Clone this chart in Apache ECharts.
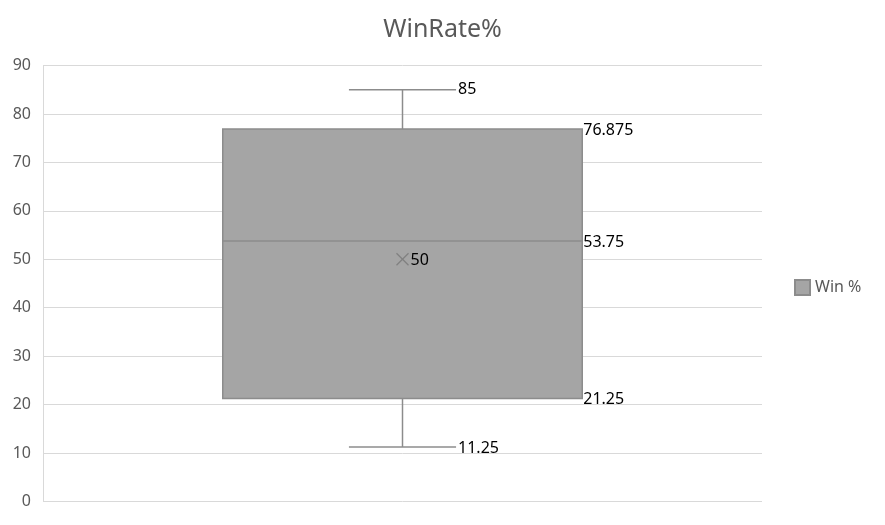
<!DOCTYPE html>
<html>
<head>
<meta charset="utf-8">
<script src="https://cdn.jsdelivr.net/npm/echarts@6/dist/echarts.min.js"></script>
<style>html,body{margin:0;padding:0;background:#fff}#c{width:885px;height:525px}</style>
</head>
<body>
<div id="c"></div>
<script>
var categories = [''];
var seriesName = 'Win %';
var whiskerLow = [11.25];
var q1Values = [21.25];
var medianValues = [53.75];
var q3Values = [76.875];
var whiskerHigh = [85];
var meanValues = [50];
var yTicks = [0, 10, 20, 30, 40, 50, 60, 70, 80, 90];

var data = categories.map(function (c, i) {
  return [i, whiskerLow[i], q1Values[i], medianValues[i], q3Values[i], whiskerHigh[i], meanValues[i]];
});

var FONT = '"Noto Sans", sans-serif';
var LINE = '#8C8C8C';

function label(text, x, y) {
  return {
    type: 'text',
    style: { text: text, x: x, y: y, align: 'left', verticalAlign: 'middle',
      fill: '#000000', font: '16px ' + FONT }
  };
}

function renderItem(params, api) {
  var x = api.value(0);
  var vals = [api.value(1), api.value(2), api.value(3), api.value(4), api.value(5), api.value(6)];
  var pLo = api.coord([x, vals[0]]);
  var pQ1 = api.coord([x, vals[1]]);
  var pMed = api.coord([x, vals[2]]);
  var pQ3 = api.coord([x, vals[3]]);
  var pHi = api.coord([x, vals[4]]);
  var pMean = api.coord([x, vals[5]]);
  var band = api.size([1, 0])[0];
  var bw = band * 0.5;
  var cw = band * 0.149;
  var cx = pLo[0];
  var lineStyle = { stroke: LINE, lineWidth: 1.5 };
  var children = [
    { type: 'line', shape: { x1: cx, y1: pHi[1], x2: cx, y2: pQ3[1] }, style: lineStyle },
    { type: 'line', shape: { x1: cx, y1: pQ1[1], x2: cx, y2: pLo[1] }, style: lineStyle },
    { type: 'line', shape: { x1: cx - cw / 2, y1: pHi[1], x2: cx + cw / 2, y2: pHi[1] }, style: lineStyle },
    { type: 'line', shape: { x1: cx - cw / 2, y1: pLo[1], x2: cx + cw / 2, y2: pLo[1] }, style: lineStyle },
    { type: 'rect', shape: { x: cx - bw / 2, y: pQ3[1], width: bw, height: pQ1[1] - pQ3[1] },
      style: { fill: '#A5A5A5', stroke: LINE, lineWidth: 1.5 } },
    { type: 'line', shape: { x1: cx - bw / 2, y1: pMed[1], x2: cx + bw / 2, y2: pMed[1] }, style: lineStyle },
    { type: 'line', shape: { x1: pMean[0] - 6, y1: pMean[1] - 6, x2: pMean[0] + 6, y2: pMean[1] + 6 },
      style: { stroke: '#808080', lineWidth: 1.2 } },
    { type: 'line', shape: { x1: pMean[0] - 6, y1: pMean[1] + 6, x2: pMean[0] + 6, y2: pMean[1] - 6 },
      style: { stroke: '#808080', lineWidth: 1.2 } },
    label(String(vals[4]), cx + cw / 2 + 2, pHi[1]),
    label(String(vals[3]), cx + bw / 2 + 1, pQ3[1] + 1),
    label(String(vals[2]), cx + bw / 2 + 1, pMed[1] + 1),
    label(String(vals[5]), pMean[0] + 8, pMean[1] + 1),
    label(String(vals[1]), cx + bw / 2 + 1, pQ1[1] + 1),
    label(String(vals[0]), cx + cw / 2 + 2, pLo[1] + 1)
  ];
  return { type: 'group', children: children };
}

var chart = echarts.init(document.getElementById('c'), null, { renderer: 'canvas' });
chart.setOption({
  animation: false,
  title: {
    text: 'WinRate%', left: 'center', top: 12,
    textStyle: { color: '#595959', fontFamily: FONT, fontSize: 25, fontWeight: 'normal' }
  },
  legend: {
    data: [seriesName], orient: 'vertical', left: 789, top: 274,
    icon: 'rect', itemWidth: 15, itemHeight: 15, itemGap: 8,
    textStyle: { color: '#595959', fontFamily: FONT, fontSize: 16 }
  },
  grid: { left: 43, right: 123, top: 65.5, bottom: 23.5, containLabel: false },
  xAxis: {
    type: 'category', data: categories,
    axisLine: { show: false }, axisTick: { show: false }, axisLabel: { show: false },
    splitLine: { show: false }
  },
  yAxis: {
    type: 'value', min: yTicks[0], max: yTicks[yTicks.length - 1], interval: yTicks[1] - yTicks[0],
    axisLine: { show: true, lineStyle: { color: '#D9D9D9', width: 1 } },
    axisTick: { show: false },
    axisLabel: { color: '#595959', fontFamily: FONT, fontSize: 16, margin: 12 },
    splitLine: { lineStyle: { color: '#D9D9D9', width: 1 } }
  },
  series: [{
    name: seriesName, type: 'custom', renderItem: renderItem,
    itemStyle: { color: '#A5A5A5', borderColor: LINE, borderWidth: 1 },
    encode: { x: 0, y: [1, 2, 3, 4, 5] },
    data: data
  }]
});
</script>
</body>
</html>
